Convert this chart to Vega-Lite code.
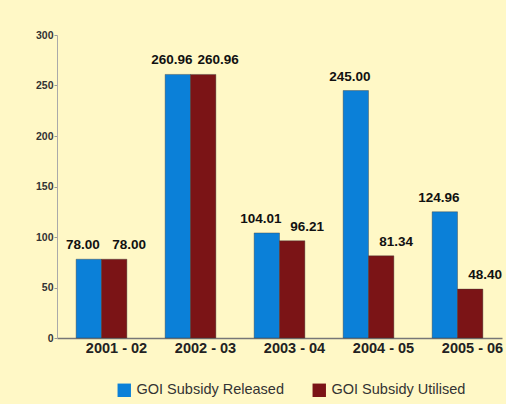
{
  "$schema": "https://vega.github.io/schema/vega-lite/v6.json",
  "autosize": {"type": "none"},
  "width": 445,
  "height": 303,
  "padding": {"left": 57, "top": 35, "right": 4, "bottom": 66},
  "background": "#fff8c6",
  "config": {
    "font": "Liberation Sans",
    "view": {"stroke": null},
    "axis": {"grid": false}
  },
  "data": {
    "values": [
      {"year": "2001 - 02", "series": "GOI Subsidy Released", "value": 78.00},
      {"year": "2001 - 02", "series": "GOI Subsidy Utilised", "value": 78.00},
      {"year": "2002 - 03", "series": "GOI Subsidy Released", "value": 260.96},
      {"year": "2002 - 03", "series": "GOI Subsidy Utilised", "value": 260.96},
      {"year": "2003 - 04", "series": "GOI Subsidy Released", "value": 104.01},
      {"year": "2003 - 04", "series": "GOI Subsidy Utilised", "value": 96.21},
      {"year": "2004 - 05", "series": "GOI Subsidy Released", "value": 245.00},
      {"year": "2004 - 05", "series": "GOI Subsidy Utilised", "value": 81.34},
      {"year": "2005 - 06", "series": "GOI Subsidy Released", "value": 124.96},
      {"year": "2005 - 06", "series": "GOI Subsidy Utilised", "value": 48.40}
    ]
  },
  "encoding": {
    "x": {
      "field": "year", "type": "nominal", "title": null,
      "scale": {"paddingInner": 0.43, "paddingOuter": 0.215},
      "axis": {
        "labelAngle": 0, "labelFontSize": 14.5, "labelFontWeight": "bold",
        "labelColor": "#222", "ticks": false, "labelPadding": 3,
        "labelOffset": 15, "labelOverlap": false, "labelBound": false,
        "domainColor": "#777", "domainWidth": 1.5
      }
    },
    "xOffset": {"field": "series", "type": "nominal"},
    "y": {
      "field": "value", "type": "quantitative", "title": null,
      "scale": {"domain": [0, 300]},
      "axis": {
        "values": [0, 50, 100, 150, 200, 250, 300],
        "labelFontSize": 10.5, "labelFontWeight": "bold", "labelColor": "#333",
        "tickSize": 3, "tickColor": "#999", "domainColor": "#aaa", "labelPadding": 1
      }
    }
  },
  "layer": [
    {
      "mark": {"type": "bar", "stroke": "#3a3a3a", "strokeWidth": 0.4},
      "encoding": {
        "color": {
          "field": "series", "type": "nominal",
          "scale": {"domain": ["GOI Subsidy Released", "GOI Subsidy Utilised"], "range": ["#0b80d8", "#7b1416"]},
          "legend": {
            "title": null, "orient": "none", "direction": "horizontal",
            "legendX": 60, "legendY": 348,
            "symbolType": "square", "symbolSize": 180, "symbolStrokeWidth": 0,
            "labelFontSize": 14.5, "labelColor": "#333", "columnPadding": 28, "labelOffset": 5
          }
        }
      }
    },
    {
      "transform": [{"filter": "datum.series === 'GOI Subsidy Released'"}],
      "mark": {"type": "text", "dy": -14, "dx": -6, "fontSize": 13.5, "fontWeight": "bold", "color": "#111"},
      "encoding": {
        "text": {"field": "value", "type": "quantitative", "format": ".2f"}
      }
    },
    {
      "transform": [{"filter": "datum.series === 'GOI Subsidy Utilised'"}],
      "mark": {"type": "text", "dy": -14, "dx": 15, "fontSize": 13.5, "fontWeight": "bold", "color": "#111"},
      "encoding": {
        "text": {"field": "value", "type": "quantitative", "format": ".2f"}
      }
    }
  ]
}
